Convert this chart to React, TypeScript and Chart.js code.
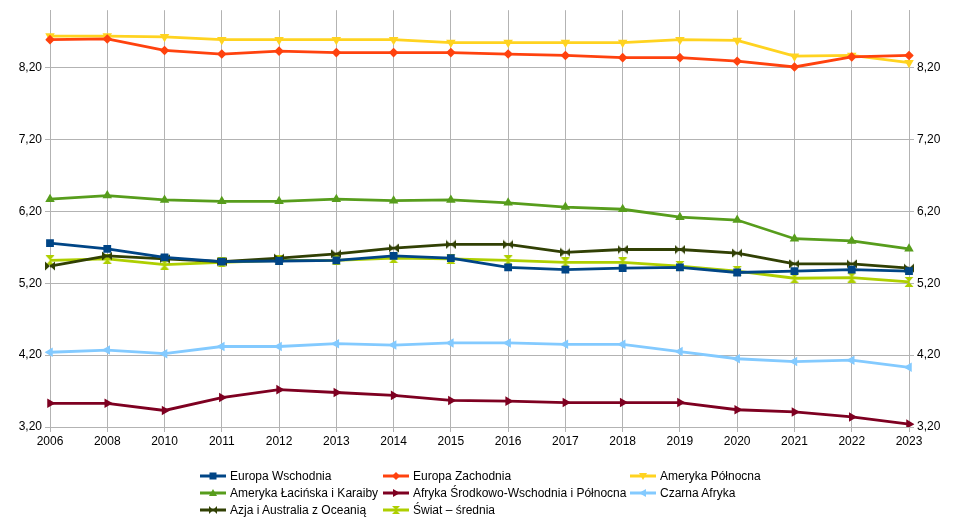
import React, { useEffect, useRef } from "react";
import { Chart, registerables } from "chart.js";

Chart.register(...registerables);

const years = ["2006", "2008", "2010", "2011", "2012", "2013", "2014", "2015", "2016", "2017", "2018", "2019", "2020", "2021", "2022", "2023"];

const europaWschodnia = [5.76, 5.68, 5.56, 5.50, 5.51, 5.52, 5.58, 5.55, 5.42, 5.39, 5.41, 5.42, 5.35, 5.37, 5.39, 5.37];
const europaZachodnia = [8.59, 8.60, 8.44, 8.39, 8.43, 8.41, 8.41, 8.41, 8.39, 8.37, 8.34, 8.34, 8.29, 8.21, 8.35, 8.37];
const amerykaPolnocna = [8.64, 8.64, 8.63, 8.59, 8.59, 8.59, 8.59, 8.55, 8.55, 8.55, 8.55, 8.59, 8.58, 8.36, 8.37, 8.27];
const amerykaLacinska = [6.37, 6.42, 6.36, 6.34, 6.34, 6.37, 6.35, 6.36, 6.32, 6.26, 6.23, 6.12, 6.08, 5.82, 5.79, 5.68];
const afrykaSrodkowo = [3.53, 3.53, 3.43, 3.61, 3.72, 3.68, 3.64, 3.57, 3.56, 3.54, 3.54, 3.54, 3.44, 3.41, 3.34, 3.24];
const czarnaAfryka = [4.24, 4.27, 4.22, 4.32, 4.32, 4.36, 4.34, 4.37, 4.37, 4.35, 4.35, 4.25, 4.15, 4.11, 4.13, 4.03];
const azja = [5.44, 5.58, 5.54, 5.50, 5.55, 5.61, 5.69, 5.74, 5.74, 5.63, 5.67, 5.67, 5.62, 5.47, 5.47, 5.41];
const swiat = [5.52, 5.54, 5.46, 5.49, 5.52, 5.52, 5.55, 5.54, 5.52, 5.49, 5.49, 5.44, 5.37, 5.27, 5.28, 5.22];

const yTicks = [3.2, 4.2, 5.2, 6.2, 7.2, 8.2];
const Y_MIN = 3.2;
const Y_MAX = 9.0;

type Marker = "square" | "diamond" | "down" | "up" | "right" | "left" | "bowtie" | "sandglass";

const seriesDefs: { label: string; data: number[]; color: string; marker: Marker }[] = [
  { label: "Europa Wschodnia", data: europaWschodnia, color: "#004586", marker: "square" },
  { label: "Europa Zachodnia", data: europaZachodnia, color: "#ff420e", marker: "diamond" },
  { label: "Ameryka Północna", data: amerykaPolnocna, color: "#ffd320", marker: "down" },
  { label: "Ameryka Łacińska i Karaiby", data: amerykaLacinska, color: "#579d1c", marker: "up" },
  { label: "Afryka Środkowo-Wschodnia i Północna", data: afrykaSrodkowo, color: "#7e0021", marker: "right" },
  { label: "Czarna Afryka", data: czarnaAfryka, color: "#83caff", marker: "left" },
  { label: "Azja i Australia z Oceanią", data: azja, color: "#314004", marker: "bowtie" },
  { label: "Świat – średnia", data: swiat, color: "#aecf00", marker: "sandglass" },
];

const FONT = "'Liberation Sans', Arial, sans-serif";
const GRID = "#b3b3b3";

function makeImage(kind: "bowtie" | "sandglass", color: string): HTMLCanvasElement {
  const s = 10;
  const c = document.createElement("canvas");
  c.width = s;
  c.height = s;
  const ctx = c.getContext("2d")!;
  ctx.fillStyle = color;
  ctx.beginPath();
  if (kind === "bowtie") {
    ctx.moveTo(0, 0.5);
    ctx.lineTo(s / 2, s / 2);
    ctx.lineTo(0, s - 0.5);
    ctx.closePath();
    ctx.moveTo(s, 0.5);
    ctx.lineTo(s / 2, s / 2);
    ctx.lineTo(s, s - 0.5);
    ctx.closePath();
  } else {
    ctx.moveTo(0.5, 0);
    ctx.lineTo(s / 2, s / 2);
    ctx.lineTo(s - 0.5, 0);
    ctx.closePath();
    ctx.moveTo(0.5, s);
    ctx.lineTo(s / 2, s / 2);
    ctx.lineTo(s - 0.5, s);
    ctx.closePath();
  }
  ctx.fill();
  return c;
}

function pointProps(marker: Marker, color: string): any {
  switch (marker) {
    case "square":
      return { pointStyle: "rect", pointRadius: 5.5, pointRotation: 0 };
    case "diamond":
      return { pointStyle: "rectRot", pointRadius: 4.8, pointRotation: 0 };
    case "down":
      return { pointStyle: "triangle", pointRadius: 5.5, pointRotation: 180 };
    case "up":
      return { pointStyle: "triangle", pointRadius: 5.5, pointRotation: 0 };
    case "right":
      return { pointStyle: "triangle", pointRadius: 5.5, pointRotation: 90 };
    case "left":
      return { pointStyle: "triangle", pointRadius: 5.5, pointRotation: 270 };
    case "bowtie":
      return { pointStyle: makeImage("bowtie", color), pointRadius: 5, pointRotation: 0 };
    case "sandglass":
      return { pointStyle: makeImage("sandglass", color), pointRadius: 5, pointRotation: 0 };
  }
}

function LegendMarker({ marker, color }: { marker: Marker; color: string }) {
  const cx = 13;
  const cy = 6;
  let shape: React.ReactNode = null;
  const r = 4;
  switch (marker) {
    case "square":
      shape = <rect x={cx - 3.5} y={cy - 3.5} width={7} height={7} fill={color} />;
      break;
    case "diamond":
      shape = <polygon points={`${cx - r},${cy} ${cx},${cy - r} ${cx + r},${cy} ${cx},${cy + r}`} fill={color} />;
      break;
    case "down":
      shape = <polygon points={`${cx - r},${cy - 3} ${cx + r},${cy - 3} ${cx},${cy + 4}`} fill={color} />;
      break;
    case "up":
      shape = <polygon points={`${cx - r},${cy + 3} ${cx + r},${cy + 3} ${cx},${cy - 4}`} fill={color} />;
      break;
    case "right":
      shape = <polygon points={`${cx - 3},${cy - r} ${cx - 3},${cy + r} ${cx + 4},${cy}`} fill={color} />;
      break;
    case "left":
      shape = <polygon points={`${cx + 3},${cy - r} ${cx + 3},${cy + r} ${cx - 4},${cy}`} fill={color} />;
      break;
    case "bowtie":
      shape = <polygon points={`${cx - r},${cy - r} ${cx},${cy} ${cx - r},${cy + r}  ${cx - r},${cy - r} ${cx + r},${cy - r} ${cx},${cy} ${cx + r},${cy + r}`} fill={color} />;
      shape = (
        <g fill={color}>
          <polygon points={`${cx - r},${cy - r} ${cx},${cy} ${cx - r},${cy + r}`} />
          <polygon points={`${cx + r},${cy - r} ${cx},${cy} ${cx + r},${cy + r}`} />
        </g>
      );
      break;
    case "sandglass":
      shape = (
        <g fill={color}>
          <polygon points={`${cx - r},${cy - r} ${cx},${cy} ${cx + r},${cy - r}`} />
          <polygon points={`${cx - r},${cy + r} ${cx},${cy} ${cx + r},${cy + r}`} />
        </g>
      );
      break;
  }
  return (
    <svg width={26} height={12} style={{ display: "block", flex: "none" }}>
      <line x1={0} y1={cy} x2={26} y2={cy} stroke={color} strokeWidth={3} />
      {shape}
    </svg>
  );
}

const legendCols = [200, 383, 630];
const legendRows = [476, 493, 510];

export default function App() {
  const canvasRef = useRef<HTMLCanvasElement | null>(null);

  useEffect(() => {
    const canvas = canvasRef.current;
    if (!canvas) return;
    const fmt = (v: any) => Number(v).toFixed(2).replace(".", ",");
    const setTicks = (scale: any) => {
      scale.ticks = yTicks.map((v) => ({ value: v }));
    };
    const chart = new Chart(canvas, {
      type: "line",
      data: {
        labels: years,
        datasets: seriesDefs.map((s) => ({
          label: s.label,
          data: s.data,
          borderColor: s.color,
          backgroundColor: s.color,
          pointBackgroundColor: s.color,
          pointBorderColor: s.color,
          pointBorderWidth: 0,
          borderWidth: 2.8,
          tension: 0,
          fill: false,
          yAxisID: "y",
          ...pointProps(s.marker, s.color),
        })),
      },
      options: {
        animation: false,
        responsive: false,
        maintainAspectRatio: false,
        layout: { padding: { top: 10, bottom: 61, left: 0, right: 0 } },
        plugins: {
          legend: { display: false },
          tooltip: { enabled: false },
          title: { display: false },
        },
        scales: {
          x: {
            type: "category",
            offset: false,
            grid: { color: GRID, tickLength: 5, lineWidth: 1 },
            border: { color: GRID },
            ticks: {
              color: "#000",
              font: { family: FONT, size: 12 },
              autoSkip: false,
              maxRotation: 0,
              padding: 2,
            },
            afterFit: (scale: any) => {
              scale.height = 33;
            },
          },
          y: {
            type: "linear",
            position: "left",
            min: Y_MIN,
            max: Y_MAX,
            afterBuildTicks: setTicks,
            grid: { color: GRID, tickLength: 5, lineWidth: 1 },
            border: { color: GRID },
            ticks: {
              color: "#000",
              font: { family: FONT, size: 12 },
              padding: 3,
              callback: (v: any) => fmt(v),
            },
            afterFit: (scale: any) => {
              scale.width = 50;
            },
          },
          y2: {
            type: "linear",
            position: "right",
            min: Y_MIN,
            max: Y_MAX,
            afterBuildTicks: setTicks,
            grid: { color: GRID, tickLength: 5, drawOnChartArea: false, drawTicks: true },
            border: { color: GRID },
            ticks: {
              color: "#000",
              font: { family: FONT, size: 12 },
              padding: 3,
              callback: (v: any) => fmt(v),
            },
            afterFit: (scale: any) => {
              scale.width = 51;
            },
          },
        },
      } as any,
    });
    return () => chart.destroy();
  }, []);

  return (
    <div style={{ position: "fixed", left: 0, top: 0, width: 960, height: 521, background: "#fff", overflow: "hidden" }}>
      <canvas ref={canvasRef} width={960} height={521} style={{ position: "absolute", left: 0, top: 0, width: 960, height: 521 }} />
      {seriesDefs.map((s, i) => {
        const col = i % 3;
        const row = Math.floor(i / 3);
        return (
          <div
            key={s.label}
            style={{
              position: "absolute",
              left: legendCols[col],
              top: legendRows[row] - 8,
              height: 16,
              display: "flex",
              alignItems: "center",
              gap: 4,
              fontFamily: FONT,
              fontSize: 12,
              color: "#000",
              whiteSpace: "nowrap",
            }}
          >
            <LegendMarker marker={s.marker} color={s.color} />
            <span>{s.label}</span>
          </div>
        );
      })}
    </div>
  );
}
